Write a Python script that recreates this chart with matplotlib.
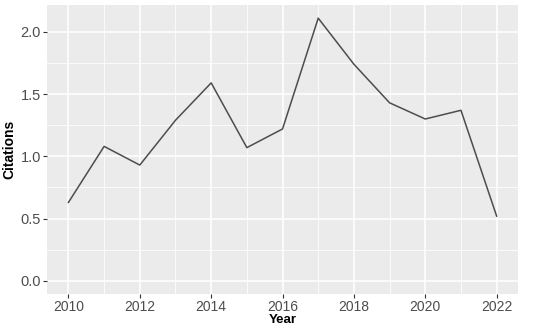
import matplotlib
matplotlib.use("Agg")
import matplotlib.pyplot as plt
import numpy as np

# data
years = [2010, 2011, 2012, 2013, 2014, 2015, 2016, 2017, 2018, 2019, 2020, 2021, 2022]
citations = [0.63, 1.08, 0.93, 1.29, 1.59, 1.07, 1.22, 2.11, 1.74, 1.43, 1.30, 1.37, 0.52]
x_ticks = [2010, 2012, 2014, 2016, 2018, 2020, 2022]
y_ticks = [0.0, 0.5, 1.0, 1.5, 2.0]

plt.rcParams['font.family'] = ['Liberation Sans', 'DejaVu Sans']

fig = plt.figure(figsize=(5.5, 3.28), dpi=100)
ax = fig.add_axes([0.0855, 0.1037, 0.8564, 0.881])
ax.set_facecolor("#EBEBEB")

# ggplot-style grid
ax.set_xticks(x_ticks)
ax.set_yticks(y_ticks)
ax.set_xticks(np.arange(2011, 2022, 2), minor=True)
ax.set_yticks(np.arange(0.25, 2.25, 0.5), minor=True)
ax.grid(which="major", color="white", linewidth=1.1)
ax.grid(which="minor", color="white", linewidth=0.55)
ax.set_axisbelow(True)

ax.plot(years, citations, color="#4D4D4D", linewidth=1.1)

ax.set_xlim(2009.4, 2022.6)
ax.set_ylim(-0.1055, 2.2155)
ax.set_yticklabels(["0.0", "0.5", "1.0", "1.5", "2.0"])

for s in ax.spines.values():
    s.set_visible(False)
ax.tick_params(which="major", length=3, color="#333333", labelcolor="#4D4D4D", labelsize=10.5, pad=1.5)
ax.tick_params(axis="x", labelsize=10, pad=1)
ax.tick_params(which="minor", length=0)

ax.set_xlabel("Year", fontsize=9.5, fontweight="bold")
ax.xaxis.set_label_coords(0.5, -0.07)
ax.set_ylabel("Citations", fontsize=10, fontweight="bold", labelpad=3)

fig.savefig("out.png", dpi=100)
